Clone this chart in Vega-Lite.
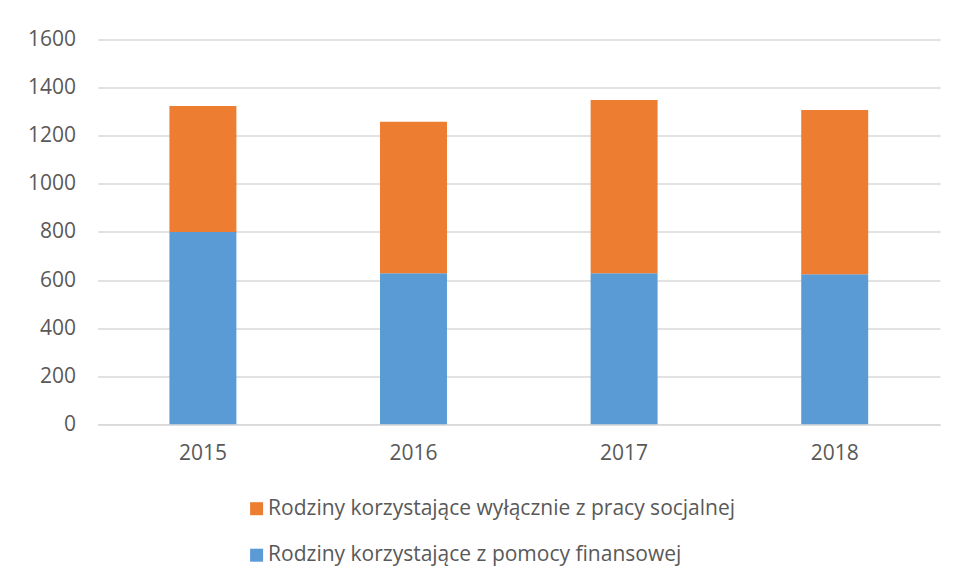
{
  "$schema": "https://vega.github.io/schema/vega-lite/v6.json",
  "autosize": {"type": "none"},
  "padding": {"left": 97.6, "top": 39.5, "right": 17, "bottom": 153.7},
  "width": 842.4,
  "height": 384.8,
  "background": "white",
  "data": {
    "values": [
      {"year": "2015", "series": "Rodziny korzystające z pomocy finansowej", "value": 800},
      {"year": "2015", "series": "Rodziny korzystające wyłącznie z pracy socjalnej", "value": 523},
      {"year": "2016", "series": "Rodziny korzystające z pomocy finansowej", "value": 628},
      {"year": "2016", "series": "Rodziny korzystające wyłącznie z pracy socjalnej", "value": 630},
      {"year": "2017", "series": "Rodziny korzystające z pomocy finansowej", "value": 628},
      {"year": "2017", "series": "Rodziny korzystające wyłącznie z pracy socjalnej", "value": 720},
      {"year": "2018", "series": "Rodziny korzystające z pomocy finansowej", "value": 624},
      {"year": "2018", "series": "Rodziny korzystające wyłącznie z pracy socjalnej", "value": 683}
    ]
  },
  "mark": {"type": "bar"},
  "encoding": {
    "x": {
      "field": "year", "type": "nominal",
      "scale": {"paddingInner": 0.682, "paddingOuter": 0.341},
      "axis": {
        "title": null, "labelAngle": 0, "ticks": false,
        "domainColor": "#d9d9d9", "domainWidth": 1.5,
        "labelFont": "Open Sans", "labelFontSize": 21, "labelColor": "#595959",
        "labelPadding": 18
      }
    },
    "y": {
      "field": "value", "type": "quantitative", "stack": "zero",
      "scale": {"domain": [0, 1600], "nice": false},
      "axis": {
        "title": null, "values": [0, 200, 400, 600, 800, 1000, 1200, 1400, 1600],
        "format": "d",
        "domain": false, "ticks": false,
        "gridColor": "#d9d9d9", "gridWidth": 1.5,
        "labelFont": "Open Sans", "labelFontSize": 21, "labelColor": "#595959",
        "labelPadding": 22
      }
    },
    "color": {
      "field": "series", "type": "nominal",
      "scale": {
        "domain": ["Rodziny korzystające wyłącznie z pracy socjalnej", "Rodziny korzystające z pomocy finansowej"],
        "range": ["#ED7D31", "#5B9BD5"]
      },
      "legend": {
        "title": null, "orient": "none", "direction": "vertical",
        "legendX": 148.5, "legendY": 458.7,
        "symbolType": "square", "symbolSize": 169, "symbolStrokeWidth": 0,
        "labelFont": "Open Sans", "labelFontSize": 21, "labelColor": "#595959",
        "labelOffset": 1, "rowPadding": 24.5, "labelLimit": 800
      }
    },
    "order": {"field": "series", "sort": "descending"}
  },
  "config": {"view": {"stroke": null}}
}
